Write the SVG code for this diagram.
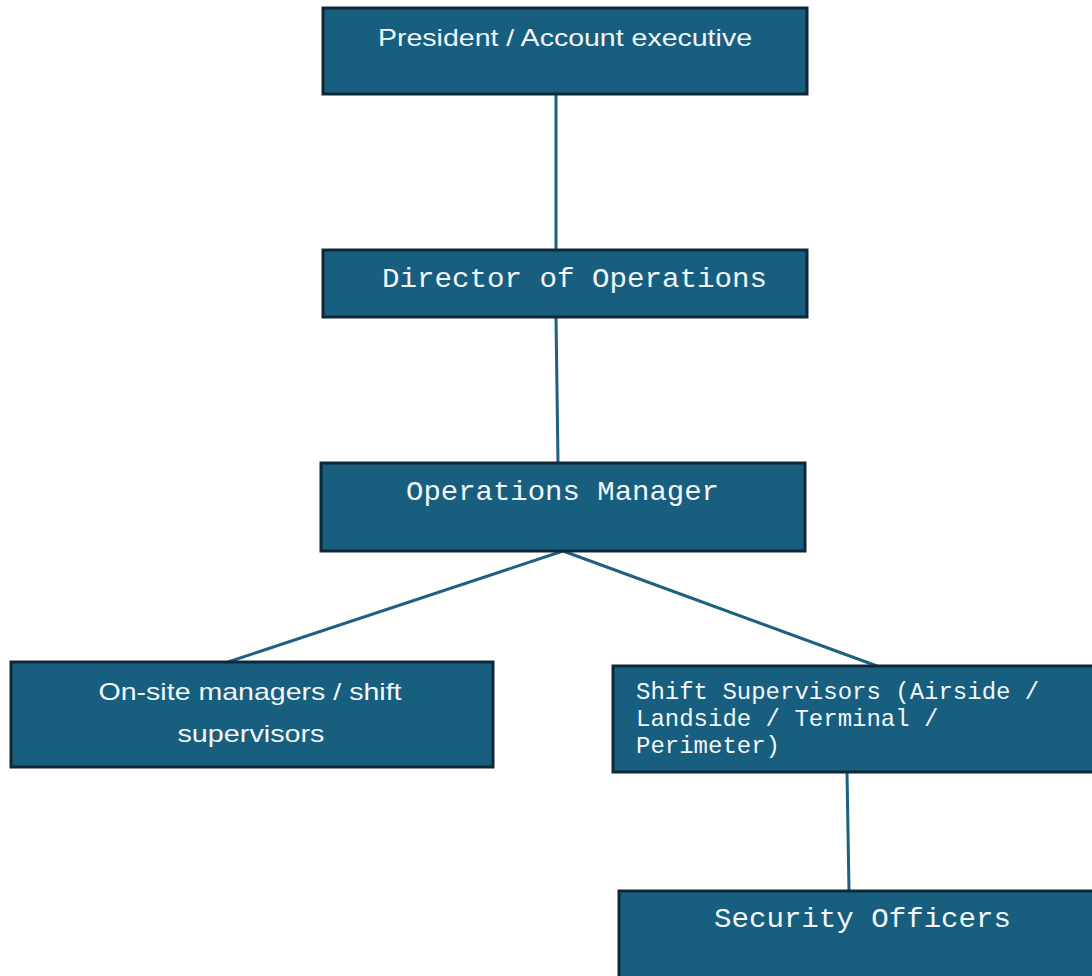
<svg xmlns="http://www.w3.org/2000/svg" width="1092" height="976" viewBox="0 0 1092 976">
<style>
.box{fill:#175e7f;stroke:#0e2838;stroke-width:3}
.sans{font-family:"Liberation Sans",Arial,sans-serif;fill:#f2f6f8;font-size:24px}
.mono{font-family:"Liberation Mono","Courier New",monospace;fill:#f2f6f8;font-size:28px}
.mono2{font-family:"Liberation Mono","Courier New",monospace;fill:#f2f6f8;font-size:24px}
.conn{stroke:#1d6080;stroke-width:3;fill:none}
</style>
<rect width="1092" height="976" fill="#ffffff"/>
<g id="connectors">
<line class="conn" x1="556" y1="94" x2="556" y2="250"/>
<line class="conn" x1="556" y1="317" x2="558" y2="463"/>
<line class="conn" x1="563" y1="551" x2="228" y2="662"/>
<line class="conn" x1="563" y1="551" x2="877" y2="666"/>
<line class="conn" x1="847" y1="772" x2="849" y2="891"/>
</g>
<g id="president">
<rect class="box" x="323" y="8" width="484" height="86"/>
<text class="sans" x="565" y="46" text-anchor="middle" textLength="374" lengthAdjust="spacingAndGlyphs">President / Account executive</text>
</g>
<g id="director">
<rect class="box" x="323" y="250" width="484" height="67"/>
<text class="mono" x="382" y="287" textLength="385" lengthAdjust="spacingAndGlyphs">Director of Operations</text>
</g>
<g id="opsmanager">
<rect class="box" x="321" y="463" width="484" height="88"/>
<text class="mono" x="406" y="500" textLength="313" lengthAdjust="spacingAndGlyphs">Operations Manager</text>
</g>
<g id="onsite">
<rect class="box" x="11" y="662" width="482" height="105"/>
<text class="sans" x="250" y="700" text-anchor="middle" textLength="303" lengthAdjust="spacingAndGlyphs">On-site managers / shift</text>
<text class="sans" x="251" y="742" text-anchor="middle" textLength="147" lengthAdjust="spacingAndGlyphs">supervisors</text>
</g>
<g id="shiftsup">
<rect class="box" x="613" y="666" width="490" height="106"/>
<text class="mono2" x="636" y="699">Shift Supervisors (Airside /</text>
<text class="mono2" x="636" y="726">Landside / Terminal /</text>
<text class="mono2" x="636" y="753">Perimeter)</text>
</g>
<g id="officers">
<rect class="box" x="619" y="891" width="484" height="100"/>
<text class="mono" x="714" y="927" textLength="297" lengthAdjust="spacingAndGlyphs">Security Officers</text>
</g>
</svg>
